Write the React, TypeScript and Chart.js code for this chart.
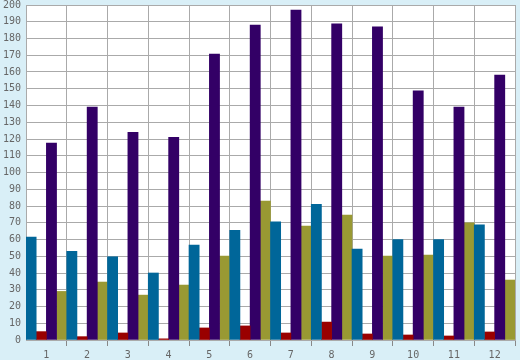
import React, { useEffect, useRef } from "react";
import { Chart, registerables } from "chart.js";

Chart.register(...registerables);

const categories = ["1", "2", "3", "4", "5", "6", "7", "8", "9", "10", "11", "12"];
const blueSeries = [61.5, 53, 49.7, 40, 56.7, 65.5, 70.5, 81, 54.3, 60, 60, 68.7];
const redSeries = [5, 2, 4.2, 0.7, 7.2, 8.4, 4.2, 10.7, 3.6, 3, 2.4, 4.8];
const purpleSeries = [117.6, 139, 124, 121, 170.7, 188, 197, 188.7, 187, 148.7, 139, 158.2];
const oliveSeries = [29, 34.6, 26.8, 32.8, 50.1, 83, 68, 74.6, 50.1, 50.7, 70, 35.8];

const plotBg = {
  id: "plotBg",
  beforeDraw(chart: any) {
    const { ctx, chartArea } = chart;
    ctx.save();
    ctx.fillStyle = "#ffffff";
    ctx.fillRect(chartArea.left, chartArea.top, chartArea.right - chartArea.left, chartArea.bottom - chartArea.top);
    ctx.restore();
  },
};

export default function App() {
  const ref = useRef<HTMLCanvasElement | null>(null);
  useEffect(() => {
    if (!ref.current) return;
    const font = { family: "'DejaVu Sans Mono', monospace", size: 10 };
    const chart = new Chart(ref.current, {
      type: "bar",
      data: {
        labels: categories,
        datasets: [
          { data: blueSeries, backgroundColor: "#006699" },
          { data: redSeries, backgroundColor: "#990000" },
          { data: purpleSeries, backgroundColor: "#330066" },
          { data: oliveSeries, backgroundColor: "#999933" },
        ],
      },
      options: {
        animation: false,
        responsive: false,
        maintainAspectRatio: false,
        layout: { padding: { top: 5, right: 5, left: 0, bottom: 0 } },
        datasets: { bar: { barPercentage: 1, categoryPercentage: 1, borderWidth: 0 } },
        plugins: { legend: { display: false }, tooltip: { enabled: false } },
        scales: {
          x: {
            grid: {
              color: "#aaaaaa",
              offset: true,
              tickLength: 6,
              drawTicks: true,
              tickColor: (c: any) => (c.index === 0 ? "rgba(0,0,0,0)" : "#888888"),
            },
            border: { color: "#aaaaaa" },
            ticks: { color: "#666666", font, padding: 3 },
            afterFit(scale: any) {
              scale.height = 20;
              scale.paddingLeft = 0;
              scale.paddingRight = 0;
            },
          },
          y: {
            min: 0,
            max: 200,
            grid: { color: "#aaaaaa", drawTicks: false },
            border: { color: "#aaaaaa" },
            ticks: { stepSize: 10, color: "#666666", font, padding: 5 },
            afterFit(scale: any) {
              scale.width = 26;
              scale.paddingTop = 0;
              scale.paddingBottom = 0;
            },
          },
        },
      },
      plugins: [plotBg],
    });
    return () => chart.destroy();
  }, []);
  return (
    <div style={{ position: "fixed", left: 0, top: 0, width: 520, height: 360, background: "#d9eff7" }}>
      <canvas ref={ref} width={520} height={360} style={{ display: "block" }} />
    </div>
  );
}
